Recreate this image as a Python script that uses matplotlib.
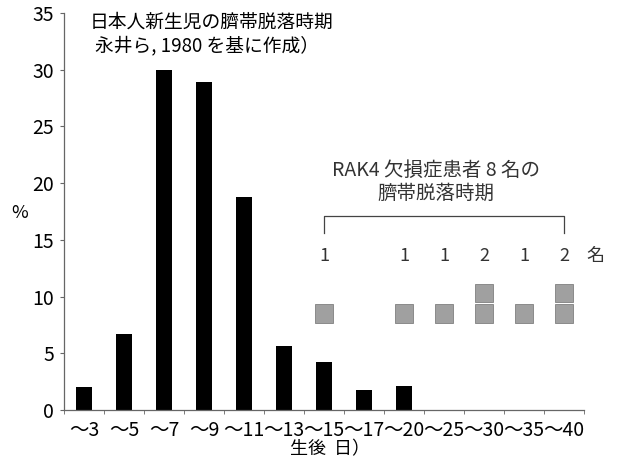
import numpy as np
import matplotlib
matplotlib.use("Agg")
import matplotlib.pyplot as plt

plt.rcParams['font.family'] = ['Noto Sans CJK JP', 'DejaVu Sans']

categories = ["～3", "～5", "～7", "～9", "～11", "～13", "～15", "～17",
              "～20", "～25", "～30", "～35", "～40"]
# Japanese newborns: % of umbilical cord separation by day
newborn_pct = [2.0, 6.7, 30.0, 28.9, 18.8, 5.6, 4.2, 1.8, 2.1]
# IRAK4-deficient patients (count per category)
rak4_cats = ["～15", "～20", "～25", "～30", "～35", "～40"]
rak4_counts = [1, 1, 1, 2, 1, 2]

fig = plt.figure(figsize=(6.3, 4.63), dpi=100)
ax = fig.add_axes([0.1016, 0.1145, 0.8254, 0.8575])

x = np.arange(len(newborn_pct)) + 0.5
ax.bar(x, newborn_pct, width=0.4, color="black")

# grey squares, one per patient
sq_w, sq_h = 0.46, 1.6
for cat, n in zip(rak4_cats, rak4_counts):
    cx = categories.index(cat) + 0.5
    for k in range(n):
        cy = 8.5 + k * 1.85
        ax.add_patch(plt.Rectangle((cx - sq_w / 2, cy - sq_h / 2), sq_w, sq_h,
                                   facecolor="#a0a0a0", edgecolor="#808080", lw=0.6))
    ax.text(cx, 13.6, str(n), ha="center", va="center", fontsize=13, color="#333333")
ax.text(13.05, 13.6, "名", ha="left", va="center", fontsize=13, color="#333333")

# bracket over patient group
x0 = categories.index(rak4_cats[0]) + 0.5
x1 = categories.index(rak4_cats[-1]) + 0.5
ax.plot([x0, x0, x1, x1], [15.6, 17.1, 17.1, 15.6], color="#444444", lw=0.9)

ax.text(9.3, 21.1, "RAK4 欠損症患者 8 名の", ha="center", va="center",
        fontsize=14, color="#333333")
ax.text(9.3, 19.1, "臍帯脱落時期", ha="center", va="center",
        fontsize=14, color="#333333")

ax.text(0.65, 34.2, "日本人新生児の臍帯脱落時期", ha="left", va="center", fontsize=13.5)
ax.text(0.78, 32.1, "永井ら, 1980 を基に作成）", ha="left", va="center", fontsize=13.5)

ax.set_xlim(0, len(categories))
ax.set_ylim(0, 35)
ax.set_yticks(range(0, 36, 5))
ax.set_yticklabels([str(v) for v in range(0, 36, 5)], fontsize=14)
ax.set_xticks(np.arange(len(categories)) + 0.5)
ax.set_xticklabels(categories, fontsize=14)
ax.set_xticks(np.arange(len(categories) + 1), minor=True)
ax.tick_params(axis="x", which="major", length=0, pad=7)
ax.tick_params(axis="x", which="minor", length=3, color="#666666")
ax.tick_params(axis="y", length=3, color="#666666", pad=4)

for s in ["top", "right"]:
    ax.spines[s].set_visible(False)
for s in ["left", "bottom"]:
    ax.spines[s].set_color("#666666")
    ax.spines[s].set_linewidth(0.9)

fig.text(20 / 630, 1 - 213 / 463, "%", ha="center", va="center", fontsize=13)
fig.text(330 / 630, 1 - 449 / 463, "生後  日）", ha="center", va="center", fontsize=13)

fig.savefig("out.png", dpi=100)
